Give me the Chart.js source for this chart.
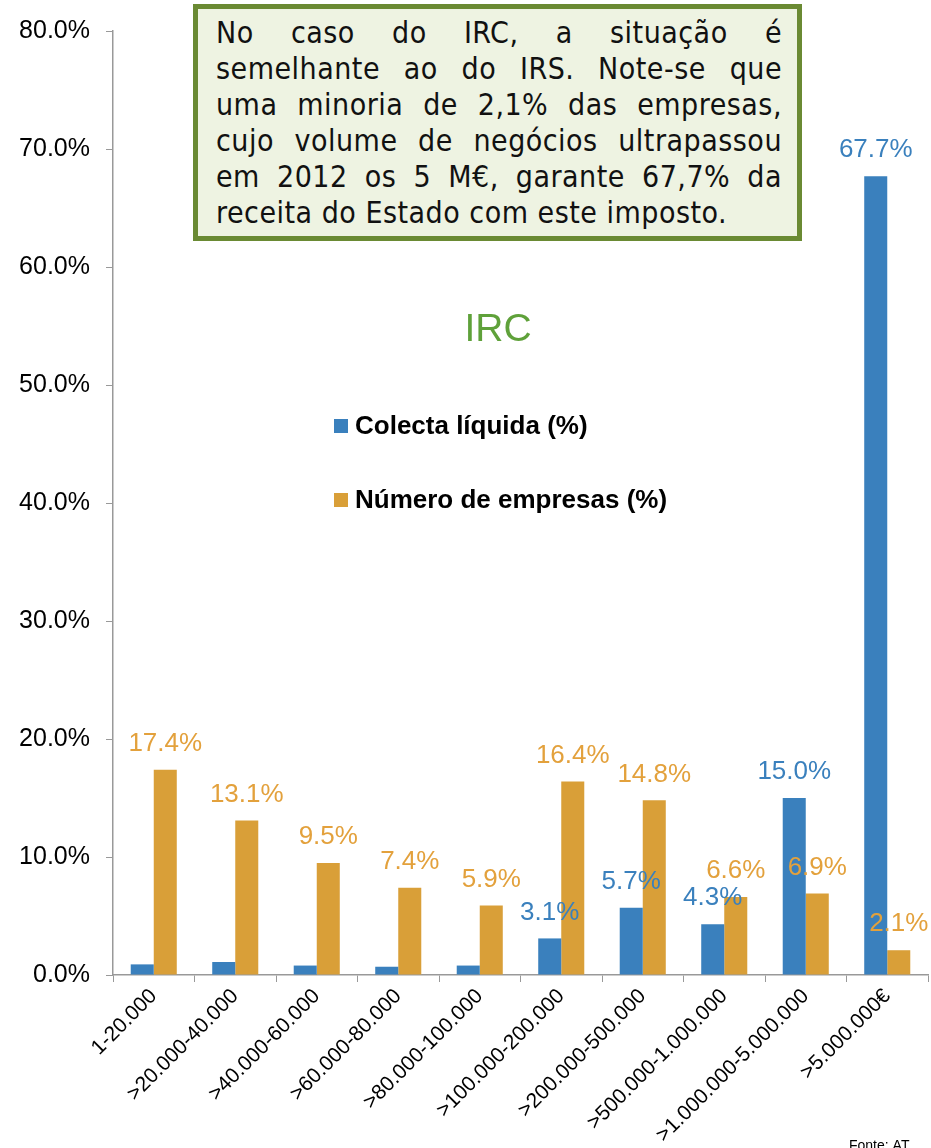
<!DOCTYPE html>
<html>
<head>
<meta charset="utf-8">
<script src="https://cdn.jsdelivr.net/npm/chart.js@4/dist/chart.umd.min.js"></script>
<style>
body{margin:0;background:#fff;}
#wrap{position:relative;width:931px;height:1148px;}
#note{
position:absolute;left:193px;top:4px;width:599px;height:227px;
border:5px solid #6a8a33;background:#eef3e2;
padding:0;box-sizing:content-box;
}
#note .txt{
margin:6px 0 0 18px;width:566px;
font-family:"DejaVu Sans Condensed","DejaVu Sans",sans-serif;
font-size:30px;line-height:36px;color:#111;letter-spacing:0.5px;
}
#note .txt div{text-align:justify;text-align-last:justify;white-space:nowrap;}
#note .txt div.last{text-align-last:left;}
</style>
</head>
<body>
<div id="wrap">
<canvas id="irc"></canvas>
<div id="note"><div class="txt">
<div>No caso do IRC, a situação é</div>
<div>semelhante ao do IRS. Note-se que</div>
<div>uma minoria de 2,1% das empresas,</div>
<div>cujo volume de negócios ultrapassou</div>
<div>em 2012 os 5 M€, garante 67,7% da</div>
<div class="last">receita do Estado com este imposto.</div>
</div></div>
</div>
<script>

const categories = ['1-20.000','>20.000-40.000','>40.000-60.000','>60.000-80.000','>80.000-100.000','>100.000-200.000','>200.000-500.000','>500.000-1.000.000','>1.000.000-5.000.000','>5.000.000€'];
const colecta = [0.9, 1.1, 0.8, 0.7, 0.8, 3.1, 5.7, 4.3, 15.0, 67.7];
const empresas = [17.4, 13.1, 9.5, 7.4, 5.9, 16.4, 14.8, 6.6, 6.9, 2.1];
// labels only shown on the bigger colecta bars
const colectaLabel = [false, false, false, false, false, true, true, true, true, true];

const blue = '#3a80bd';
const orange = '#d99f38';

// value labels, title, legend and source text
const extras = {
id:'extras',
afterDatasetsDraw(chart){
const ctx = chart.ctx;
ctx.save();
ctx.font = '26px "Liberation Sans", Arial, sans-serif';
ctx.textAlign = 'center';
ctx.textBaseline = 'middle';
chart.data.datasets.forEach((ds, i) => {
chart.getDatasetMeta(i).data.forEach((bar, j) => {
if(i === 0 && !colectaLabel[j]) return;
ctx.fillStyle = i === 0 ? blue : '#e3a13c';
ctx.fillText(ds.data[j].toFixed(1) + '%', bar.x, bar.y - 26);
});
});

// title
ctx.fillStyle = '#5fa13a';
ctx.font = '39px "Liberation Sans", Arial, sans-serif';
ctx.fillText('IRC', 498, 330);

// legend
ctx.textAlign = 'left';
ctx.font = 'bold 26px "Liberation Sans", Arial, sans-serif';
ctx.fillStyle = blue;
ctx.fillRect(334, 419, 14, 14);
ctx.fillStyle = '#000';
ctx.fillText('Colecta líquida (%)', 355, 427);
ctx.fillStyle = orange;
ctx.fillRect(334, 493, 14, 14);
ctx.fillStyle = '#000';
ctx.fillText('Número de empresas (%)', 355, 501);

// source
ctx.font = '14px "Liberation Sans", Arial, sans-serif';
ctx.textBaseline = 'top';
ctx.fillText('Fonte: AT', 849, 1139);
ctx.restore();
}
};

new Chart(document.getElementById('irc'), {
type:'bar',
data:{
labels:categories,
datasets:[
{label:'Colecta líquida (%)', data:colecta, backgroundColor:blue},
{label:'Número de empresas (%)', data:empresas, backgroundColor:orange}
]
},
options:{
responsive:true,
maintainAspectRatio:false,
animation:false,
layout:{padding:{top:23, right:3, left:0, bottom:0}},
datasets:{bar:{categoryPercentage:0.565, barPercentage:1}},
plugins:{legend:{display:false}, tooltip:{enabled:false}},
scales:{
x:{
grid:{drawOnChartArea:false, tickLength:7, color:'#999', offset:true},
border:{color:'#999', width:1.5},
ticks:{
color:'#000', autoSkip:false, minRotation:45, maxRotation:45, padding:2,
font:{family:'"Liberation Sans", Arial, sans-serif', size:21}
},
afterFit(scale){ scale.height = 173; }
},
y:{
min:0, max:80,
grid:{drawOnChartArea:false, tickLength:7, color:'#999'},
border:{color:'#999', width:1.5},
ticks:{
stepSize:10, color:'#000', padding:16,
font:{family:'"Liberation Sans", Arial, sans-serif', size:25},
callback:function(v){ return v.toFixed(1) + '%'; }
},
afterFit(scale){ scale.width = 113; }
}
}
},
plugins:[extras]
});

</script>
</body>
</html>
